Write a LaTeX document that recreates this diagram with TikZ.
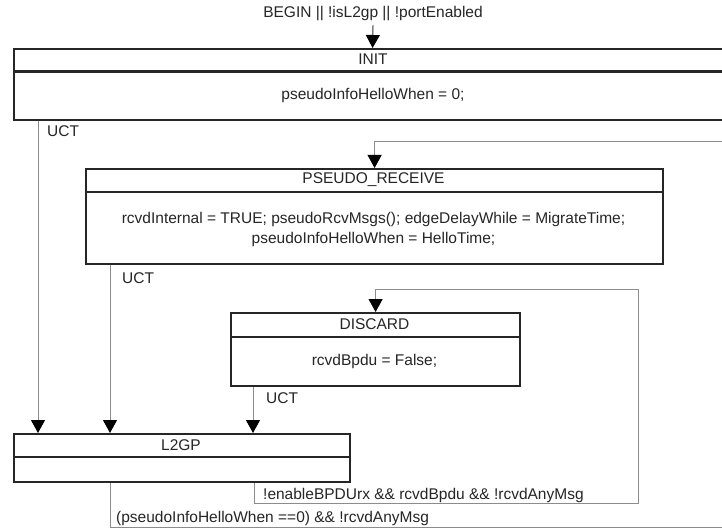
\documentclass[tikz,border=0pt]{standalone}
\usepackage{fontspec}
\setmainfont{Liberation Sans}
\usetikzlibrary{arrows.meta}
\begin{document}
\begin{tikzpicture}[x=1pt,y=-1pt,
  every node/.style={font=\fontsize{15.5}{20}\selectfont, text=black!85, inner sep=0pt},
  statebox/.style={draw=black!85, line width=2.2pt, inner sep=0pt, anchor=north west},
  sepline/.style={draw=black!85, line width=2.2pt},
  conn/.style={draw=black!45, line width=1pt},
  arr/.style={conn, -{Triangle[length=13pt,width=14pt,color=black]}},
  lbl/.style={anchor=west}]
\clip (0,0) rectangle (722,529);
\fill[white] (0,0) rectangle (722,529);

% INIT
\node[statebox, minimum width=717pt, minimum height=71pt] (init) at (13,48) {};
\draw[sepline] ([yshift=-23.5pt]init.north west) -- ([yshift=-23.5pt]init.north east);
\node (initT) at (373,59.5) {INIT};
\node (initB) at (373,95) {pseudoInfoHelloWhen = 0;};

% PSEUDO_RECEIVE
\node[statebox, minimum width=577pt, minimum height=95pt] (pseudo) at (85,168) {};
\draw[sepline] ([yshift=-24pt]pseudo.north west) -- ([yshift=-24pt]pseudo.north east);
\node (pseudoT) at (373.5,180) {PSEUDO\_RECEIVE};
\node[align=center] (pseudoB) at (373.5,229) {rcvdInternal = TRUE; pseudoRcvMsgs(); edgeDelayWhile = MigrateTime;\\ pseudoInfoHelloWhen = HelloTime;};

% DISCARD
\node[statebox, minimum width=289pt, minimum height=73pt] (discard) at (230,312) {};
\draw[sepline] ([yshift=-25pt]discard.north west) -- ([yshift=-25pt]discard.north east);
\node (discardT) at (374.5,324.5) {DISCARD};
\node (discardB) at (374.5,361) {rcvdBpdu = False;};

% L2GP
\node[statebox, minimum width=336pt, minimum height=48pt] (l2gp) at (13,433) {};
\draw[sepline] ([yshift=-24pt]l2gp.north west) -- ([yshift=-24pt]l2gp.north east);
\node (l2gpT) at (181,445) {L2GP};

% entry
\node (beginlbl) at (373,14) {BEGIN || !isL2gp || !portEnabled};
\draw[arr, draw=black!80] ([yshift=-4pt]beginlbl.south) -- (init.north);

% UCT transitions
\draw[arr] ([xshift=25pt]init.south west) -- ([xshift=25pt]init.south west |- l2gp.north);
\node[lbl] (uct1) at (47,131) {UCT};
\draw[arr] ([xshift=25pt]pseudo.south west) -- ([xshift=25pt]pseudo.south west |- l2gp.north);
\node[lbl] (uct2) at (122,278) {UCT};
\draw[arr] ([xshift=23pt]discard.south west) -- ([xshift=23pt]discard.south west |- l2gp.north);
\node[lbl] (uct3) at (266,398) {UCT};

% loop into PSEUDO_RECEIVE from the right
\coordinate (rin) at (730,142);
\draw[arr] (rin) -| (pseudo.north);

% L2GP -> DISCARD loop
\coordinate (lp1) at (638,503);
\coordinate (lp2) at (638,289);
\draw[arr] ([xshift=241pt]l2gp.south west) |- (lp1) -- (lp2) -| (discard.north);
\node[lbl] (c1) at (263,495) {!enableBPDUrx \&\& rcvdBpdu \&\& !rcvdAnyMsg};

% L2GP -> out (to PSEUDO_RECEIVE)
\coordinate (rout) at (730,527);
\draw[conn] ([xshift=97pt]l2gp.south west) |- (rout);
\node[lbl] (c2) at (116,518) {(pseudoInfoHelloWhen ==0) \&\& !rcvdAnyMsg};
\end{tikzpicture}
\end{document}
